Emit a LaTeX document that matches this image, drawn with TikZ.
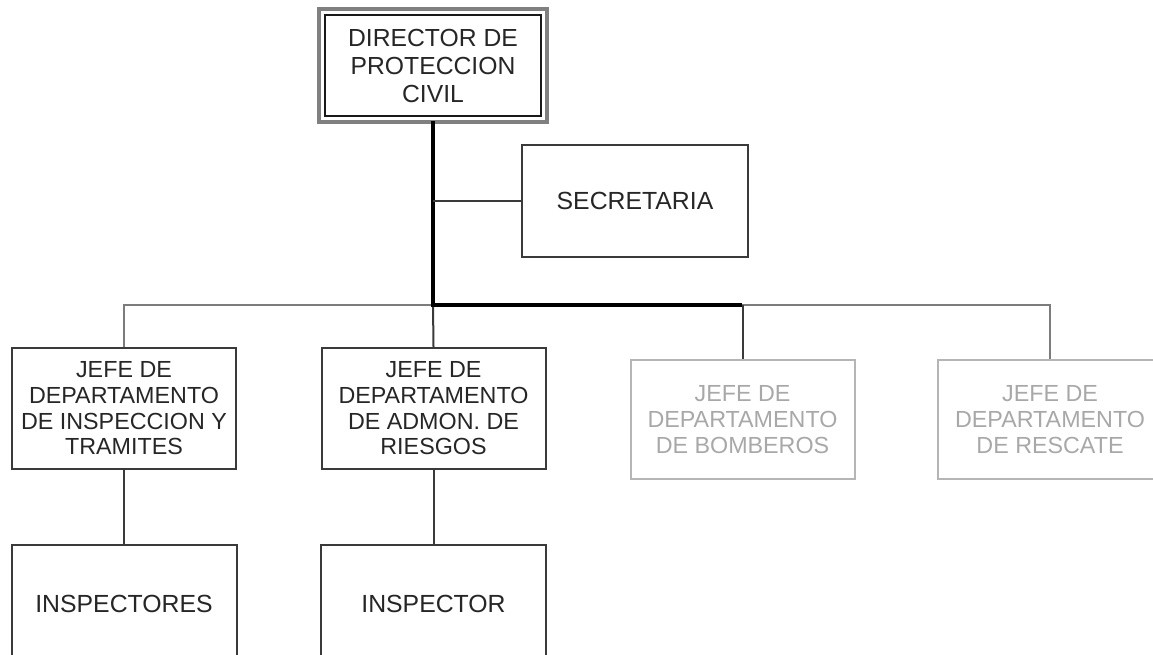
\documentclass[tikz,border=0pt]{standalone}
\usepackage{fontspec}
\setmainfont{Liberation Sans}
\usepackage{xcolor}
\usetikzlibrary{positioning}

\definecolor{boxline}{HTML}{3A3A3A}
\definecolor{inkgray}{HTML}{A8A8A8}
\definecolor{busgray}{HTML}{7C7C7C}

\begin{document}
\begin{tikzpicture}[
  x=1pt, y=-1pt,
  unit/.style={draw=boxline, line width=2pt, align=center, text=black!85, inner sep=0pt},
  head/.style={unit, draw=black!90, font=\fontsize{24.7}{28}\selectfont, minimum width=216pt, minimum height=101pt},
  jefe/.style={unit, font=\fontsize{23.3}{25.7}\selectfont, minimum width=224pt, minimum height=121pt},
  faded/.style={jefe, draw=inkgray!85, text=inkgray, minimum height=119pt},
  staff/.style={unit, font=\fontsize{24.8}{28}\selectfont, minimum width=225pt, minimum height=118pt},
  link/.style={draw=boxline, line width=2pt},
  trunk/.style={draw=black, line width=4pt},
  buslink/.style={draw=busgray, line width=2.4pt}
]
\useasboundingbox (0,0) rectangle (1153,654);
\clip (0,0) rectangle (1153,654);

% director
\node[head] (dir) at (433,65.5) {DIRECTOR DE\\PROTECCION\\CIVIL};
\draw[draw=gray, line width=3.5pt] ([shift={(-5,-5)}]dir.north west) rectangle ([shift={(5,5)}]dir.south east);

\node[staff, minimum width=226pt, minimum height=112pt] (sec) at (635,201) {SECRETARIA};

% jefes de departamento
\node[jefe] (jefe1) at (124,408.5) {JEFE DE\\DEPARTAMENTO\\DE INSPECCION Y\\TRAMITES};
\node[jefe] (jefe2) at (433.5,408.5) {JEFE DE\\DEPARTAMENTO\\DE ADMON. DE\\RIESGOS};
\node[faded] (jefe3) at (742.5,419.5) {JEFE DE\\DEPARTAMENTO\\DE BOMBEROS};
\node[faded] (jefe4) at (1050,419.5) {JEFE DE\\DEPARTAMENTO\\DE RESCATE};

\node[staff] (insp1) at (124,604) {INSPECTORES};
\node[staff] (insp2) at (433.5,604) {INSPECTOR};

\coordinate (bus) at (433,305);

% connectors
\draw[buslink] (jefe1.north) |- (bus) -| (jefe4.north);
\draw[link] (jefe3.north |- bus) -- (jefe3.north);
\draw[link] (bus) -- (jefe2.north);
\draw[trunk] (dir.south |- 0,121) -- (bus) -- ([xshift=-1pt]jefe3.north |- bus);
\draw[link] (sec.west) -- (sec.west -| bus);
\draw[link] (jefe1) -- (insp1);
\draw[link] (jefe2) -- (insp2);
\end{tikzpicture}
\end{document}
